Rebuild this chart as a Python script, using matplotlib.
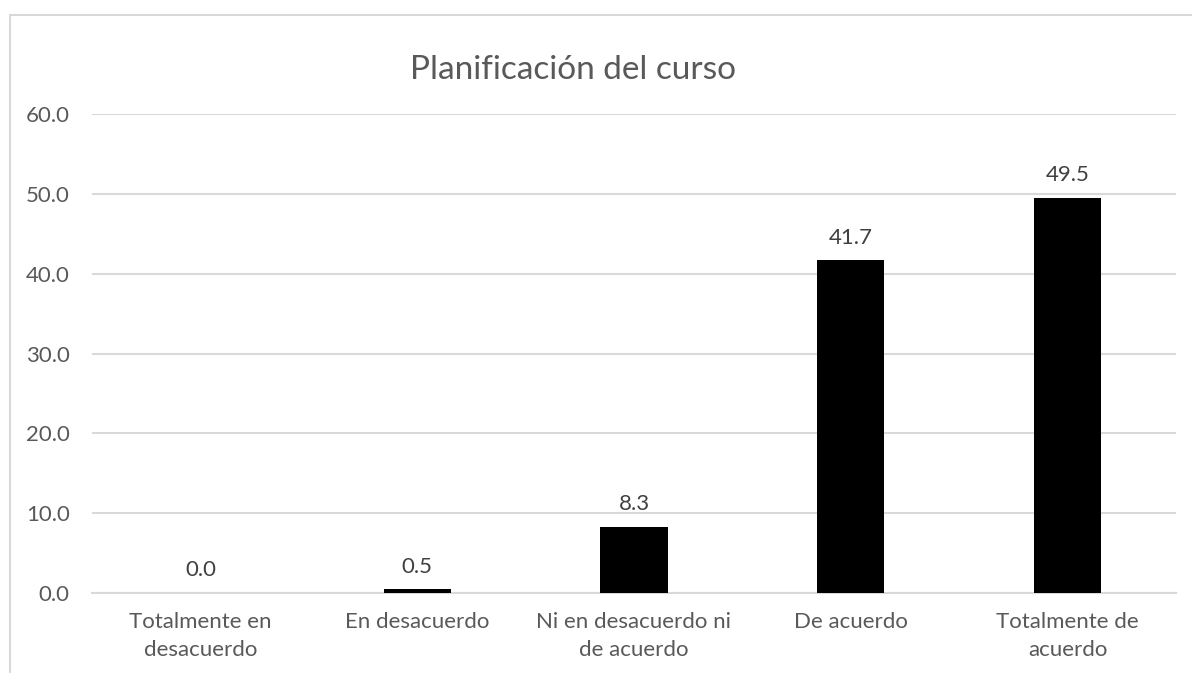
import matplotlib.pyplot as plt
from matplotlib.patches import Rectangle

plt.rcParams['font.family'] = ['Lato', 'DejaVu Sans']

categories = ['Totalmente en\ndesacuerdo', 'En desacuerdo', 'Ni en desacuerdo ni\nde acuerdo',
              'De acuerdo', 'Totalmente de\nacuerdo']
values = [0.0, 0.5, 8.3, 41.7, 49.5]
yticks = [0, 10, 20, 30, 40, 50, 60]

text_col = '#595959'
grid_col = '#d9d9d9'

fig = plt.figure(figsize=(11.92, 6.73), dpi=100)
# chart frame (only left and top edges fall inside the picture)
fig.patches.append(Rectangle((10 / 1192, -0.1), 1.2, 1 - 15 / 673 + 0.1,
                             transform=fig.transFigure, fill=False,
                             edgecolor=grid_col, linewidth=1.5))

ax = fig.add_axes([92 / 1192, 1 - 593 / 673, (1176 - 92) / 1192, (593 - 114) / 673])
x = range(len(categories))
bars = ax.bar(x, values, width=0.31, color='black', zorder=3)

ax.set_xlim(-0.5, len(categories) - 0.5)
ax.set_ylim(0, 60)
ax.set_yticks(yticks)
ax.set_yticklabels([f'{v:.1f}' for v in yticks])
ax.set_xticks(list(x))
ax.set_xticklabels(categories, linespacing=1.5)
ax.tick_params(axis='both', length=0, labelsize=16, colors=text_col)
ax.tick_params(axis='y', pad=16)
ax.tick_params(axis='x', pad=14)
ax.grid(axis='y', color=grid_col, linewidth=1.5, zorder=0)
for s in ['top', 'right', 'left']:
    ax.spines[s].set_visible(False)
ax.spines['bottom'].set_color(grid_col)
ax.spines['bottom'].set_linewidth(1.5)

for b, v in zip(bars, values):
    ax.annotate(f'{v:.1f}', (b.get_x() + b.get_width() / 2, v),
                xytext=(0, 9), textcoords='offset points',
                ha='center', va='bottom', fontsize=16, color='#404040')

fig.text(573 / 1192, 1 - 70 / 673, 'Planificación del curso', ha='center', va='center',
         fontsize=24, color=text_col)

fig.savefig('out.png', dpi=100)
